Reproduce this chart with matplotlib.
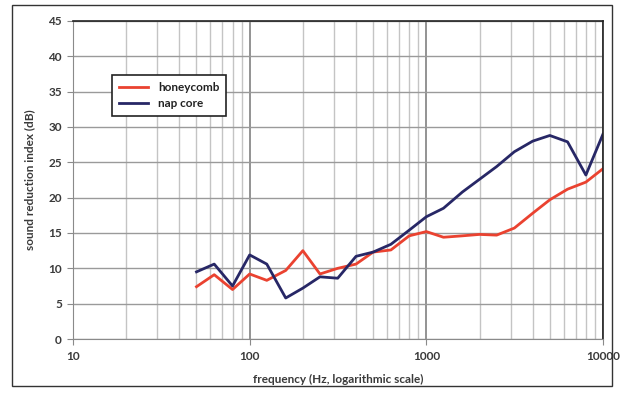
import matplotlib
matplotlib.use("Agg")
import matplotlib.pyplot as plt
from matplotlib.ticker import FixedLocator, NullFormatter

plt.rcParams['font.family'] = ['Lato', 'DejaVu Sans']

# third-octave band centre frequencies (Hz)
freq = [50, 63, 80, 100, 125, 160, 200, 250, 315, 400, 500, 630, 800,
        1000, 1250, 1600, 2000, 2500, 3150, 4000, 5000, 6300, 8000, 10000]

honeycomb = [7.4, 9.1, 7.0, 9.2, 8.3, 9.7, 12.5, 9.2, 10.0, 10.6, 12.3, 12.6,
             14.6, 15.2, 14.4, 14.6, 14.8, 14.7, 15.7, 17.8, 19.7, 21.2, 22.2, 24.1]
nap_core = [9.5, 10.6, 7.5, 11.9, 10.6, 5.8, 7.2, 8.8, 8.6, 11.7, 12.3, 13.4,
            15.4, 17.3, 18.5, 20.8, 22.6, 24.4, 26.5, 28.0, 28.8, 27.9, 23.2, 29.0]

yticks = list(range(0, 50, 5))
xticks = [10, 100, 1000, 10000]

txt = '#3a3a3a'

fig = plt.figure(figsize=(6.24, 3.94), dpi=100)
ax = fig.add_axes([73 / 624, 1 - 339 / 394, 530 / 624, 318 / 394])

# outer frame like the spreadsheet chart area
fig.patches.append(plt.Rectangle((12 / 624, 8 / 394), 600 / 624, 381 / 394,
                                 transform=fig.transFigure, fill=False,
                                 edgecolor='#333333', linewidth=1.0))

ax.set_xscale('log')
ax.set_xlim(10, 10000)
ax.set_ylim(0, 45)

minor = [m * d for d in (10, 100, 1000) for m in range(2, 10)]
ax.xaxis.set_minor_locator(FixedLocator(minor))
ax.xaxis.set_minor_formatter(NullFormatter())
ax.set_xticks(xticks)
ax.set_xticklabels([str(x) for x in xticks])
ax.set_yticks(yticks)

ax.grid(True, which='major', axis='y', color='#9a9a9a', linewidth=1.0)
ax.grid(True, which='major', axis='x', color='#8a8a8a', linewidth=1.3)
ax.grid(True, which='minor', axis='x', color='#c4c4c4', linewidth=1.0)
ax.set_axisbelow(True)

ax.plot(freq, honeycomb, color='#ea4230', linewidth=2.0, label='honeycomb')
ax.plot(freq, nap_core, color='#272766', linewidth=2.0, label='nap core')

for s in ('top', 'right'):
    ax.spines[s].set_color('#222222')
    ax.spines[s].set_linewidth(1.2)
for s in ('left', 'bottom'):
    ax.spines[s].set_color('#8a8a8a')

ax.tick_params(axis='both', which='major', labelsize=8.5, colors='#8a8a8a',
               labelcolor=txt, length=4)
ax.tick_params(axis='x', which='major', length=4, pad=5)
ax.tick_params(axis='x', which='minor', length=0)
ax.tick_params(axis='y', direction='out', pad=4)
for lab in ax.get_xticklabels() + ax.get_yticklabels():
    lab.set_fontweight('bold')

ax.set_xlabel('frequency (Hz, logarithmic scale)', fontsize=8.5, color=txt,
              fontweight='bold', labelpad=8)
ax.set_ylabel('sound reduction index (dB)', fontsize=8.5, color=txt,
              fontweight='bold', labelpad=9)

leg = ax.legend(loc='upper left', bbox_to_anchor=(0.062, 0.85),
                prop={'size': 8.5, 'weight': 'bold'},
                frameon=True, fancybox=False, handlelength=2.5,
                borderpad=0.6, labelspacing=0.45, framealpha=1)
leg.get_frame().set_edgecolor('#222222')
leg.get_frame().set_linewidth(1.2)
for t in leg.get_texts():
    t.set_color('#222222')

fig.savefig('out.png', dpi=100)
